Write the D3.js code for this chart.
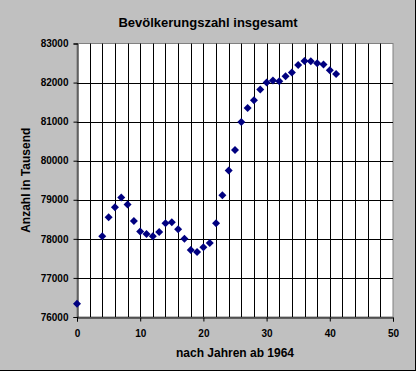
<!DOCTYPE html>
<html><head><meta charset="utf-8">
<script src="https://cdn.jsdelivr.net/npm/d3@7"></script>
<style>
html,body{margin:0;padding:0;background:#c0c0c0;}
svg{display:block;}
text{font-family:"Liberation Sans",Arial,sans-serif;font-weight:bold;fill:#000;}
</style></head>
<body>
<svg id="c" width="416" height="371"></svg>
<script>
const title = "Bevölkerungszahl insgesamt";
const xLabel = "nach Jahren ab 1964";
const yLabel = "Anzahl in Tausend";
const years = [0,4,5,6,7,8,9,10,11,12,13,14,15,16,17,18,19,20,21,22,23,24,25,26,27,28,29,30,31,32,33,34,35,36,37,38,39,40,41];
const population = [76340,78065,78550,78810,79060,78880,78460,78190,78125,78065,78175,78400,78425,78245,78005,77715,77665,77785,77895,78400,79115,79750,80275,80990,81350,81545,81825,82005,82050,82035,82160,82260,82450,82550,82545,82495,82460,82315,82220];
const xTicks = [0,10,20,30,40,50];
const yTicks = [76000,77000,78000,79000,80000,81000,82000,83000];
const xGrid = d3.range(0, 51, 2);

const svg = d3.select("#c");
const L = 77, R = 393, T = 43.5, B = 317;
const x = d3.scaleLinear().domain([0,50]).range([L,R]);
const y = d3.scaleLinear().domain([76000,83000]).range([B,T]);

svg.append("rect").attr("x",0).attr("y",0).attr("width",416).attr("height",371).attr("fill","#c0c0c0");
// shadow border right/bottom
svg.append("line").attr("x1",415.5).attr("x2",415.5).attr("y1",0).attr("y2",371).attr("stroke","#000");
svg.append("line").attr("x1",0).attr("x2",416).attr("y1",370.5).attr("y2",370.5).attr("stroke","#000");

svg.append("rect").attr("x",L).attr("y",T).attr("width",R-L).attr("height",B-T)
  .attr("fill","#fff").attr("stroke","#808080").attr("stroke-width",1);

// grid
svg.append("g").selectAll("line").data(xGrid.filter(d=>d>0 && d<50)).join("line")
  .attr("x1",d=>Math.round(x(d))+0.5).attr("x2",d=>Math.round(x(d))+0.5)
  .attr("y1",T).attr("y2",B).attr("stroke","#000").attr("stroke-width",1);
svg.append("g").selectAll("line").data(yTicks.filter(d=>d>76000 && d<83000)).join("line")
  .attr("y1",d=>Math.round(y(d))+0.5).attr("y2",d=>Math.round(y(d))+0.5)
  .attr("x1",L).attr("x2",R).attr("stroke","#000").attr("stroke-width",1);

// axes
const xAxis = d3.axisBottom(x).tickValues(xTicks).tickSize(4).tickPadding(8).tickFormat(d3.format("d"));
const gx = svg.append("g").attr("transform",`translate(0,${Math.round(B)+0.5})`).call(xAxis);
gx.select(".domain").attr("stroke","#000");
gx.selectAll(".tick line").attr("stroke","#000");
gx.selectAll("text").style("font-size","10px").style("font-weight","bold").style("font-family","Liberation Sans, Arial, sans-serif").attr("fill","#000");

const yAxis = d3.axisLeft(y).tickValues(yTicks).tickSize(4).tickPadding(5).tickFormat(d3.format("d"));
const gy = svg.append("g").attr("transform",`translate(${L+0.5},0)`).call(yAxis);
gy.select(".domain").attr("stroke","#000");
gy.selectAll(".tick line").attr("stroke","#000");
gy.selectAll("text").style("font-size","10px").style("font-weight","bold").style("font-family","Liberation Sans, Arial, sans-serif").attr("fill","#000");

// markers
const diamond = d3.symbol().type(d3.symbolDiamond2).size(40);
svg.append("g").selectAll("path").data(years.map((t,i)=>[t,population[i]])).join("path")
  .attr("d", d3.symbol().type(d3.symbolSquare).size(32))
  .attr("transform",d=>`translate(${x(d[0])},${y(d[1])}) rotate(45)`)
  .attr("fill","#000080");

svg.append("text").attr("x",208).attr("y",27).attr("text-anchor","middle").style("font-size","13px").text(title);
svg.append("text").attr("x",(L+R)/2).attr("y",357).attr("text-anchor","middle").style("font-size","12px").text(xLabel);
svg.append("text").attr("transform",`translate(30,${(T+B)/2}) rotate(-90)`).attr("text-anchor","middle").style("font-size","12px").text(yLabel);
</script>
</body></html>
